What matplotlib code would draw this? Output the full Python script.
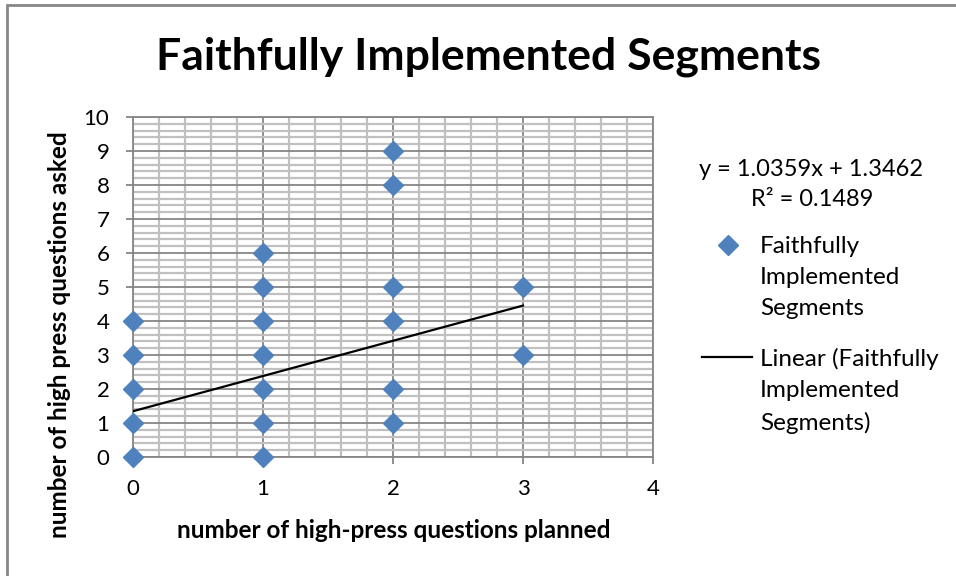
import numpy as np
import matplotlib.pyplot as plt
from matplotlib.lines import Line2D
from matplotlib.patches import Rectangle
from matplotlib.ticker import MultipleLocator

plt.rcParams['font.family'] = ['Lato', 'DejaVu Sans']

# planned vs asked high-press questions per segment
planned = [0, 0, 0, 0, 0,
           1, 1, 1, 1, 1, 1, 1,
           2, 2, 2, 2, 2, 2,
           3, 3]
asked = [0, 1, 2, 3, 4,
         0, 1, 2, 3, 4, 5, 6,
         1, 2, 4, 5, 8, 9,
         3, 5]

slope = 1.0359
intercept = 1.3462
r_squared = 0.1489

blue = '#4f81bd'
major_grey = '#868686'
minor_grey = '#c0c0c0'
W, H = 956, 576


def fx(px):
    return px / W


def fy(py):
    return 1 - py / H


fig = plt.figure(figsize=(9.56, 5.76), dpi=100)
ax = fig.add_axes([fx(133), fy(457), 520 / W, 340 / H])

# outer chart border (only top/left visible)
fig.patches.append(Rectangle((fx(7), -0.1), 1.2, fy(5) + 0.1,
                             transform=fig.transFigure, fill=False,
                             edgecolor=major_grey, linewidth=2))

ax.set_xlim(0, 4)
ax.set_ylim(0, 10)
ax.xaxis.set_major_locator(MultipleLocator(1))
ax.xaxis.set_minor_locator(MultipleLocator(0.2))
ax.yaxis.set_major_locator(MultipleLocator(1))
ax.yaxis.set_minor_locator(MultipleLocator(0.2))
ax.grid(which='minor', color=minor_grey, linewidth=1.6)
ax.grid(which='major', color=major_grey, linewidth=1.3)
ax.set_axisbelow(True)

for side in ax.spines:
    ax.spines[side].set_color(major_grey)
    ax.spines[side].set_linewidth(1.3)

ax.tick_params(which='major', direction='out', length=5, width=1.3,
               color=major_grey, labelsize=16, labelcolor='black')
ax.tick_params(axis='y', pad=12)
ax.tick_params(axis='x', pad=11)
ax.tick_params(which='minor', length=0)

marker_style = dict(linestyle='none', marker='D', markersize=10, color=blue)
trend_style = dict(color='black', linewidth=1.6)

ax.plot(planned, asked, clip_on=False, zorder=3, **marker_style)

trend_x = np.array([0, 3])
ax.plot(trend_x, slope * trend_x + intercept, zorder=4, **trend_style)

fig.text(fx(488), fy(57), 'Faithfully Implemented Segments',
         ha='center', va='center', fontsize=32, fontweight='bold')

fig.text(fx(394), fy(531), 'number of high-press questions planned',
         ha='center', va='center', fontsize=17.5, fontweight='bold')
fig.text(fx(60), fy(335), 'number of high press questions asked',
         ha='center', va='center', rotation=90, fontsize=17.5,
         fontweight='bold')

# trendline equation
fig.text(fx(811), fy(170), f'y = {slope}x + {intercept}',
         ha='center', va='center', fontsize=17)
fig.text(fx(812), fy(199), f'R² = {r_squared}',
         ha='center', va='center', fontsize=17)

# legend, handles aligned to the first line of each entry
fig.add_artist(Line2D([fx(728)], [fy(245)], transform=fig.transFigure,
                      **marker_style))
fig.text(fx(760), fy(245) + 9 / H, 'Faithfully\nImplemented\nSegments',
         ha='left', va='top', fontsize=17.5, linespacing=1.6)
fig.add_artist(Line2D([fx(702), fx(752)], [fy(357), fy(357)],
                      transform=fig.transFigure, **trend_style))
fig.text(fx(760), fy(357) + 9 / H, 'Linear (Faithfully\nImplemented\nSegments)',
         ha='left', va='top', fontsize=17.5, linespacing=1.6)

fig.savefig('out.png', dpi=100)
